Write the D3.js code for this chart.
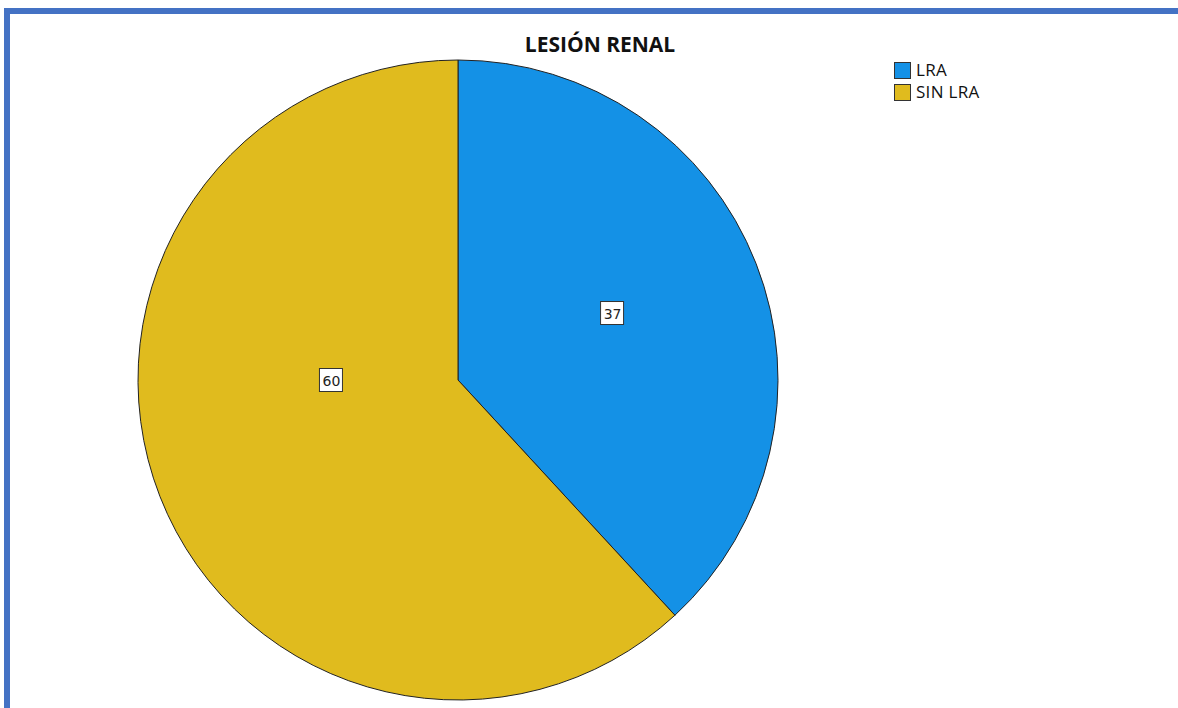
<!DOCTYPE html>
<html>
<head>
<meta charset="utf-8">
<script src="https://cdn.jsdelivr.net/npm/d3@7"></script>
<style>
  html, body { margin: 0; padding: 0; background: #fff; }
  svg { display: block; }
</style>
</head>
<body>
<svg id="chart" width="1178" height="708"></svg>
<script>
// Kidney injury counts
const categories = ["LRA", "SIN LRA"];
const values = [37, 60];
const colors = ["#1491E6", "#E0BB1E"];
const title = "LESIÓN RENAL";

const svg = d3.select("#chart");
const W = 1178, H = 708;

// frame
svg.append("path")
  .attr("d", `M7,${H} L7,11 L${W},11`)
  .attr("fill", "none")
  .attr("stroke", "#4472C4")
  .attr("stroke-width", 6);

svg.append("text")
  .attr("x", 600).attr("y", 52)
  .attr("text-anchor", "middle")
  .attr("font-family", "'Open Sans', sans-serif")
  .attr("font-weight", "bold")
  .attr("font-size", 21)
  .attr("fill", "#111")
  .text(title);

const cx = 458, cy = 380, R = 320;
const g = svg.append("g").attr("transform", `translate(${cx},${cy})`);

const pie = d3.pie().sort(null).value(d => d.v);
const arcs = pie(categories.map((c, i) => ({ c, v: values[i], col: colors[i] })));
const arc = d3.arc().innerRadius(0).outerRadius(R);

g.selectAll("path.slice").data(arcs).enter().append("path")
  .attr("class", "slice")
  .attr("d", arc)
  .attr("fill", d => d.data.col)
  .attr("stroke", "#222")
  .attr("stroke-width", 1);

// value labels placed inside each slice
const labelPlace = [
  { ang: 66.5, r: 0.525 },
  { ang: 270.0, r: 0.397 }
];
arcs.forEach((d, i) => {
  const a = labelPlace[i].ang * Math.PI / 180;
  const rr = labelPlace[i].r * R;
  const x = Math.sin(a) * rr, y = -Math.cos(a) * rr;
  const lg = g.append("g").attr("transform", `translate(${x},${y})`);
  lg.append("rect")
    .attr("x", -11.5).attr("y", -11.5).attr("width", 23).attr("height", 23)
    .attr("fill", "#fff").attr("stroke", "#333").attr("stroke-width", 1);
  lg.append("text")
    .attr("x", 0.5).attr("y", 5.5)
    .attr("text-anchor", "middle")
    .attr("font-family", "'DejaVu Sans', sans-serif")
    .attr("font-size", 14)
    .attr("fill", "#222")
    .text(d.data.v);
});

// legend
const leg = svg.append("g").attr("transform", "translate(894,62)");
categories.forEach((c, i) => {
  const row = leg.append("g").attr("transform", `translate(0,${i * 22})`);
  row.append("rect")
    .attr("x", 0.5).attr("y", 0.5).attr("width", 16).attr("height", 16)
    .attr("fill", colors[i]).attr("stroke", "#333").attr("stroke-width", 1);
  row.append("text")
    .attr("x", 22).attr("y", 14)
    .attr("font-family", "'Open Sans', sans-serif")
    .attr("font-size", 17)
    .attr("letter-spacing", 0.3)
    .attr("fill", "#111")
    .text(c);
});
</script>
</body>
</html>
